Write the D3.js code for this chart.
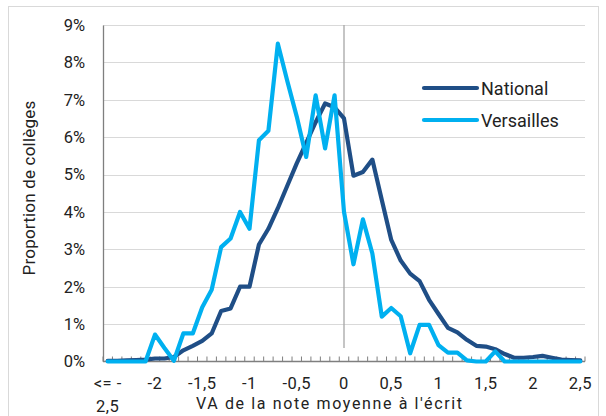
<!DOCTYPE html>
<html><head><meta charset="utf-8">
<script src="https://cdn.jsdelivr.net/npm/d3@7"></script>
<style>body{margin:0;background:#fff}svg{display:block;font-family:Roboto,"Liberation Sans",sans-serif}</style>
</head><body>
<svg id="c" width="606" height="416"></svg>
<script>
const categories = d3.range(51).map(i => Math.round((i - 25)) / 10);
const xTickLabels = ["<= -2,5","-2","-1,5","-1","-0,5","0","0,5","1","1,5","2","2,5"];
const yTicks = [0,1,2,3,4,5,6,7,8,9];
const national = [0.02,0.02,0.03,0.04,0.05,0.08,0.08,0.12,0.30,0.42,0.55,0.75,1.35,1.42,2.0,2.0,3.13,3.55,4.1,4.7,5.3,5.85,6.4,6.9,6.8,6.5,4.97,5.07,5.4,4.32,3.25,2.7,2.35,2.15,1.65,1.27,0.9,0.78,0.58,0.42,0.4,0.33,0.2,0.1,0.1,0.12,0.15,0.1,0.05,0.04,0.03];
const versailles = [0,0,0,0,0,0.72,0.36,0.02,0.75,0.75,1.45,1.92,3.06,3.29,4.0,3.55,5.92,6.17,8.5,7.5,6.55,5.47,7.12,5.7,7.12,4.0,2.6,3.8,2.89,1.2,1.43,1.21,0.22,0.98,0.98,0.44,0.24,0.24,0.03,0,0,0.27,0,0,0,0,0,0,0,0,0];
const seriesNames = ["National","Versailles"];
const colors = ["#1F4E86","#00B0F0"];

const svg = d3.select("#c");
const L = 103, R = 585, T = 25, B = 361.5;
const x = d3.scalePoint().domain(d3.range(51)).range([L, R]).padding(0.5);
const y = d3.scaleLinear().domain([0, 9]).range([B, T]);

// chart border
svg.append("rect").attr("x",8.5).attr("y",6.5).attr("width",590).attr("height",420).attr("fill","none").attr("stroke","#d9d9d9");

// gridlines
svg.append("g").selectAll("line").data(yTicks.slice(1)).join("line")
  .attr("x1",L).attr("x2",R).attr("y1",d=>Math.round(y(d))+0.5).attr("y2",d=>Math.round(y(d))+0.5)
  .attr("stroke","#d9d9d9").attr("stroke-width",1);

// y axis
const ya = svg.append("g").attr("transform",`translate(${L},0)`)
  .call(d3.axisLeft(y).tickValues(yTicks).tickSize(0).tickPadding(18).tickFormat(d=>d+"%"));
ya.select(".domain").attr("stroke","#7f7f7f").attr("stroke-width",1.3);
ya.selectAll("text").attr("font-size",16.5).attr("fill","#222").attr("font-family","Roboto");

// zero vertical line
svg.append("line").attr("x1",x(25)).attr("x2",x(25)).attr("y1",T).attr("y2",348)
  .attr("stroke","#a6a6a6").attr("stroke-width",1.3);

// x axis line and ticks (category boundaries, inside)
svg.append("line").attr("x1",L).attr("x2",R).attr("y1",B).attr("y2",B).attr("stroke","#7f7f7f").attr("stroke-width",1.3);
const step = x.step();
svg.append("g").selectAll("line").data(d3.range(52)).join("line")
  .attr("x1",d=>L+d*step).attr("x2",d=>L+d*step).attr("y1",B).attr("y2",B-5)
  .attr("stroke","#7f7f7f").attr("stroke-width",1);

// x tick labels
const labelIdx = d3.range(0,51,5);
const xl = svg.append("g").selectAll("text").data(labelIdx).join("text")
  .attr("x",d=>x(d)).attr("y",389).attr("text-anchor","middle")
  .attr("font-size",16.5).attr("letter-spacing",0.5).attr("fill","#222");
xl.each(function(d,i){
  const t = d3.select(this);
  const lab = xTickLabels[i];
  if (i===0){
    t.append("tspan").attr("x",x(d)).attr("dy",0).text("<= -");
    t.append("tspan").attr("x",x(d)).attr("dy",23).text("2,5");
  } else t.text(lab);
});

// axis titles
svg.append("text").attr("x",329).attr("y",409).attr("text-anchor","middle").attr("font-size",16).attr("fill","#222")
  .attr("textLength",266).attr("lengthAdjust","spacing")
  .text("VA de la note moyenne à l'écrit");
svg.append("text").attr("transform","translate(35,188) rotate(-90)").attr("text-anchor","middle").attr("font-size",17).attr("fill","#222")
  .attr("letter-spacing",0.2)
  .text("Proportion de collèges");

// lines
const line = d3.line().x((d,i)=>x(i)).y(d=>y(d));
[national, versailles].forEach((s,k)=>{
  svg.append("path").datum(s).attr("d",line).attr("fill","none")
    .attr("stroke",colors[k]).attr("stroke-width",4.2).attr("stroke-linejoin","round").attr("stroke-linecap","round");
});

// legend
const lg = svg.append("g");
seriesNames.forEach((n,k)=>{
  const yy = 88 + k*32;
  lg.append("line").attr("x1",424).attr("x2",477).attr("y1",yy).attr("y2",yy)
    .attr("stroke",colors[k]).attr("stroke-width",4.2).attr("stroke-linecap","round");
  lg.append("text").attr("x",481).attr("y",yy+6.5).attr("font-size",18).attr("fill","#222").text(n);
});
</script>
</body></html>
